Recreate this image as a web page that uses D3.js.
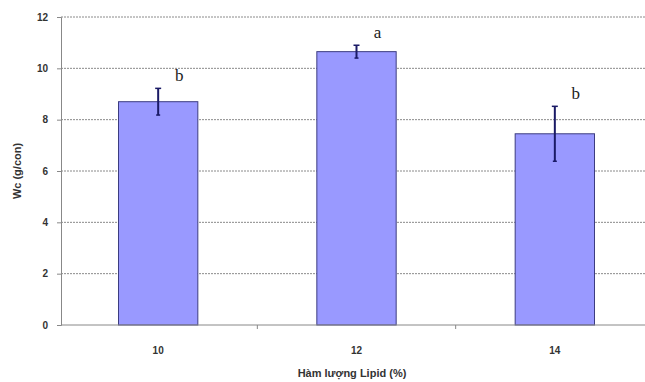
<!DOCTYPE html>
<html><head><meta charset="utf-8">
<script src="https://cdn.jsdelivr.net/npm/d3@7"></script>
<style>body{margin:0;background:#fff}</style>
</head><body><svg id="c" width="645" height="382"></svg>
<script>
const categories = ["10", "12", "14"];
const values = [8.7, 10.65, 7.45];
const errors = [0.52, 0.25, 1.07];
const letters = ["b", "a", "b"];
const yTicks = [0, 2, 4, 6, 8, 10, 12];

const svg = d3.select("#c");
const m = {left: 61, top: 17, right: 654, bottom: 325};
const x = d3.scaleBand().domain(categories).range([59, m.right]).paddingInner(0.6).paddingOuter(0.3);
const xb = d3.scaleBand().domain(categories).range([59, m.right]);
const y = d3.scaleLinear().domain([0, 12]).range([m.bottom, m.top]);

// gridlines
svg.append("g").selectAll("line").data(yTicks.filter(d => d > 0)).join("line")
  .attr("x1", m.left).attr("x2", 645).attr("y1", d => y(d)).attr("y2", d => y(d))
  .attr("stroke", "#8a8a8a").attr("stroke-width", 1).attr("stroke-dasharray", "2,1");

// bars
svg.append("g").selectAll("rect").data(categories).join("rect")
  .attr("x", (d) => x(d)).attr("width", x.bandwidth())
  .attr("y", (d, i) => y(values[i])).attr("height", (d, i) => y(0) - y(values[i]))
  .attr("fill", "#9999ff").attr("stroke", "#3c3c80").attr("stroke-width", 1);

// error bars
const eb = svg.append("g").attr("stroke", "#1a1a66").attr("stroke-width", 2);
categories.forEach((c, i) => {
  const cx = x(c) + x.bandwidth() / 2;
  eb.append("line").attr("x1", cx).attr("x2", cx).attr("y1", y(values[i] + errors[i])).attr("y2", y(values[i] - errors[i]));
  eb.append("line").attr("x1", cx - 3).attr("x2", cx + 3).attr("y1", y(values[i] + errors[i])).attr("y2", y(values[i] + errors[i])).attr("stroke-width", 1.5);
  eb.append("line").attr("x1", cx - 2).attr("x2", cx + 2).attr("y1", y(values[i] - errors[i])).attr("y2", y(values[i] - errors[i])).attr("stroke-width", 1.5);
});

// letters
svg.append("g").selectAll("text").data(categories).join("text")
  .attr("x", (d) => x(d) + x.bandwidth() / 2 + 21)
  .attr("y", (d, i) => y(values[i] + errors[i]) - 7)
  .attr("font-family", "Liberation Serif, Times New Roman, serif").attr("font-size", 17)
  .attr("fill", "#222").attr("text-anchor", "middle")
  .text((d, i) => letters[i]);

// y axis
const ya = svg.append("g").attr("transform", `translate(${m.left},0)`)
  .call(d3.axisLeft(y).tickValues(yTicks).tickSize(4).tickPadding(9));
ya.select(".domain").attr("stroke", "#888");
ya.selectAll(".tick line").attr("stroke", "#888");
ya.selectAll("text").attr("font-family", "Liberation Sans, Arial, sans-serif").attr("font-size", 10).attr("font-weight", "bold").attr("fill", "#333");

// x axis
const xa = svg.append("g").attr("transform", `translate(0,${m.bottom})`);
xa.append("line").attr("x1", m.left).attr("x2", 645).attr("stroke", "#888");
xa.selectAll("line.t").data(categories.slice(1)).join("line").attr("class", "t")
  .attr("x1", d => xb(d)).attr("x2", d => xb(d)).attr("y1", 0).attr("y2", 4).attr("stroke", "#888");
xa.selectAll("text").data(categories).join("text")
  .attr("x", d => xb(d) + xb.bandwidth() / 2).attr("y", 29).attr("text-anchor", "middle")
  .attr("font-family", "Liberation Sans, Arial, sans-serif").attr("font-size", 10).attr("font-weight", "bold").attr("fill", "#333")
  .text(d => d);

svg.append("text").attr("x", 352).attr("y", 377).attr("text-anchor", "middle")
  .attr("font-family", "Liberation Sans, Arial, sans-serif").attr("font-size", 11).attr("font-weight", "bold").attr("fill", "#333")
  .text("Hàm lượng Lipid (%)");
svg.append("text").attr("transform", "translate(21,171) rotate(-90)").attr("text-anchor", "middle")
  .attr("font-family", "Liberation Sans, Arial, sans-serif").attr("font-size", 11).attr("font-weight", "bold").attr("fill", "#333")
  .text("Wc (g/con)");
</script></body></html>
